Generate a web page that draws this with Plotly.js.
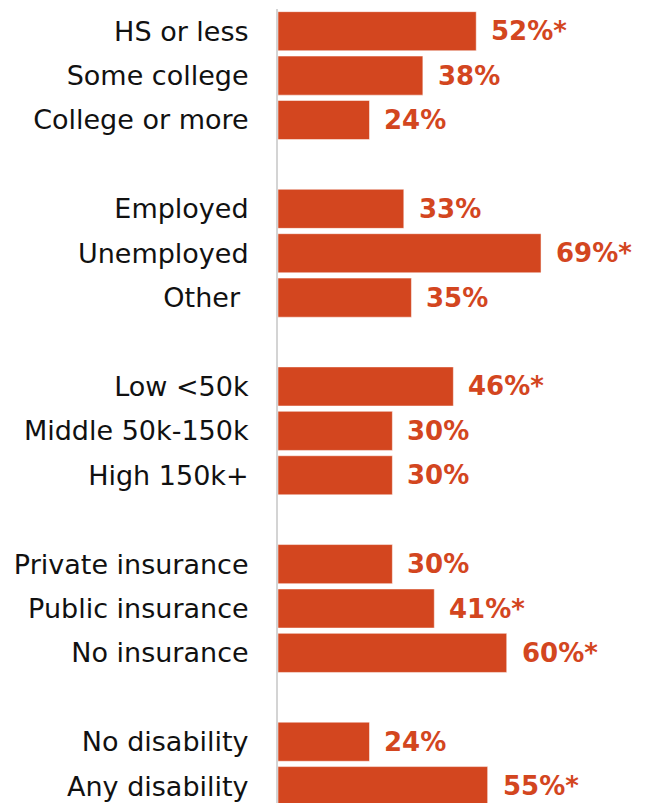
<!DOCTYPE html>
<html><head><meta charset="utf-8">
<script src="https://cdn.plot.ly/plotly-3.0.1.min.js"></script>
<style>html,body{margin:0;padding:0;background:#fff;}</style>
</head><body><div id="chart" style="width:647px;height:803px;"></div>
<script>
const categories = ["HS or less","Some college","College or more"," ",
  "Employed","Unemployed","Other ","  ",
  "Low <50k","Middle 50k-150k","High 150k+","   ",
  "Private insurance","Public insurance","No insurance","    ",
  "No disability","Any disability"];
const values = [52,38,24,null,33,69,35,null,46,30,30,null,30,41,60,null,24,55];
const labels = ["52%*","38%","24%","","33%","69%*","35%","","46%*","30%","30%","","30%","41%*","60%*","","24%","55%*"];

const barColor = "#D3461F";
const annotations = [];
categories.forEach((c,i)=>{
  if(values[i]!==null){
    annotations.push({x:values[i], y:c, xref:'x', yref:'y', text:labels[i], showarrow:false,
      xanchor:'left', yanchor:'middle', xshift:13,
      font:{family:'DejaVu Sans, sans-serif', size:26, color:barColor, weight:'bold'}});
  }
});

const trace = {type:'bar', orientation:'h', x:values, y:categories,
  marker:{color:barColor, line:{color:'#ffffff', width:0.5}}, hoverinfo:'none'};

const layout = {
  width:647, height:803,
  margin:{l:278, r:0, t:9, b:0, pad:0},
  paper_bgcolor:'#fff', plot_bgcolor:'#fff',
  bargap:0.12, showlegend:false,
  xaxis:{range:[0,96.8], showgrid:false, zeroline:false, showticklabels:false, showline:false},
  yaxis:{type:'category', categoryorder:'array', categoryarray:categories,
    range:[17.38,-0.5], showgrid:false, zeroline:false,
    showline:true, linecolor:'#d4d4d4', linewidth:2,
    ticks:'outside', ticklen:22, tickcolor:'rgba(0,0,0,0)',
    tickfont:{family:'DejaVu Sans, sans-serif', size:27, color:'#111'}},
  annotations:annotations,
  font:{family:'DejaVu Sans, sans-serif'}
};
Plotly.newPlot('chart',[trace],layout,{displayModeBar:false,staticPlot:true});
</script></body></html>
